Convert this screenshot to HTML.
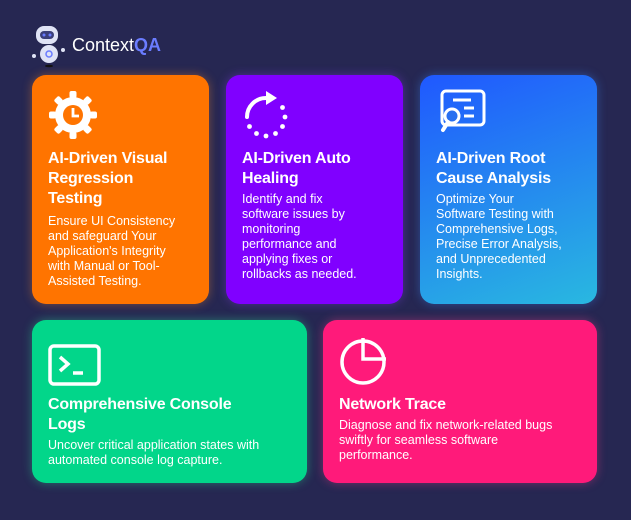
<!DOCTYPE html>
<html><head><meta charset="utf-8"><style>
*{margin:0;padding:0;box-sizing:border-box}
body{width:631px;height:520px;background:#262752;font-family:"Liberation Sans",sans-serif;position:relative;overflow:hidden;color:#fff}
.c{position:absolute;border-radius:14px;padding:0 16px}
.t{position:absolute;left:16px;font-weight:bold;font-size:16px;line-height:20px;letter-spacing:-0.2px;white-space:nowrap}
.b{position:absolute;left:16px;font-size:12.5px;line-height:15px;white-space:nowrap}
svg{position:absolute}
</style></head><body>
<svg style="left:30px;top:24px" width="40" height="44" viewBox="0 0 40 44">
<rect x="6" y="2" width="22" height="18" rx="8" fill="#dfe3f5"/>
<rect x="10" y="7" width="14" height="8" rx="4" fill="#3b3f7a"/>
<circle cx="14" cy="11" r="1.5" fill="#6a7cff"/><circle cx="20" cy="11" r="1.5" fill="#6a7cff"/>
<ellipse cx="19" cy="30" rx="9" ry="9" fill="#dfe3f5"/>
<circle cx="19" cy="30" r="3" fill="none" stroke="#6a7cff" stroke-width="1.5"/>
<circle cx="4" cy="32" r="2" fill="#dfe3f5"/><circle cx="33" cy="26" r="2" fill="#dfe3f5"/>
<ellipse cx="19" cy="42" rx="4" ry="1.2" fill="#111"/>
</svg>
<div style="position:absolute;left:72px;top:35px;font-size:18px;color:#fff">Context<b style="color:#6a7cff">QA</b></div>

<div class="c" style="left:32px;top:75px;width:177px;height:229px;background:#ff7400;box-shadow:0 0 10px rgba(255,140,40,.4)">
<svg style="left:16px;top:15px" width="50" height="50" viewBox="0 0 50 50"><g fill="#fff"><circle cx="25" cy="25" r="18"/><g id="t"><rect x="21.5" y="1" width="7" height="7" rx="2"/></g>
<use href="#t" transform="rotate(45 25 25)"/><use href="#t" transform="rotate(90 25 25)"/><use href="#t" transform="rotate(135 25 25)"/><use href="#t" transform="rotate(180 25 25)"/><use href="#t" transform="rotate(225 25 25)"/><use href="#t" transform="rotate(270 25 25)"/><use href="#t" transform="rotate(315 25 25)"/></g>
<circle cx="25" cy="25" r="13" fill="#fff"/><circle cx="25" cy="25" r="10" fill="#ff7400"/><path d="M25 18v8h6" stroke="#fff" stroke-width="2.8" fill="none"/></svg>
<div class="t" style="top:74px">AI-Driven Visual<br>Regression<br>Testing</div>
<div class="b" style="top:139px">Ensure UI Consistency<br>and safeguard Your<br>Application's Integrity<br>with Manual or Tool-<br>Assisted Testing.</div></div>

<div class="c" style="left:226px;top:75px;width:177px;height:229px;background:#8000ff;box-shadow:0 0 10px rgba(140,60,255,.4)">
<svg style="left:14px;top:15px" width="52" height="52" viewBox="0 0 52 52"><path d="M7 27A19 19 0 0 1 26 8" stroke="#fff" stroke-width="4" fill="none" stroke-linecap="round"/><path d="M26 1l11 7-11 7z" fill="#fff"/>
<g fill="#fff"><circle cx="42.5" cy="17.5" r="2.4"/><circle cx="45" cy="27" r="2.4"/><circle cx="42.5" cy="36.5" r="2.4"/><circle cx="35.5" cy="43.5" r="2.4"/><circle cx="26" cy="46" r="2.4"/><circle cx="16.5" cy="43.5" r="2.4"/><circle cx="9.5" cy="36.5" r="2.4"/></g></svg>
<div class="t" style="top:74px">AI-Driven Auto<br>Healing</div>
<div class="b" style="top:117px">Identify and fix<br>software issues by<br>monitoring<br>performance and<br>applying fixes or<br>rollbacks as needed.</div></div>

<div class="c" style="left:420px;top:75px;width:177px;height:229px;background:linear-gradient(160deg,#2058ff,#29b8e0);box-shadow:0 0 10px rgba(60,140,255,.4)">
<svg style="left:18px;top:13px" width="50" height="52" viewBox="0 0 50 52"><rect x="4" y="3" width="42" height="34" rx="4" fill="none" stroke="#fff" stroke-width="3"/>
<path d="M15 12h18M26 20h10M26 28h10" stroke="#fff" stroke-width="3"/><circle cx="14" cy="28" r="7" fill="#2a70f0" stroke="#fff" stroke-width="3"/><path d="M10 34l-5 8" stroke="#fff" stroke-width="4" stroke-linecap="round"/></svg>
<div class="t" style="top:74px">AI-Driven Root<br>Cause Analysis</div>
<div class="b" style="top:117px">Optimize Your<br>Software Testing with<br>Comprehensive Logs,<br>Precise Error Analysis,<br>and Unprecedented<br>Insights.</div></div>

<div class="c" style="left:32px;top:320px;width:275px;height:163px;background:#02d68a;box-shadow:0 0 10px rgba(40,230,150,.4)">
<svg style="left:16px;top:24px" width="54" height="44" viewBox="0 0 54 44"><rect x="2" y="2" width="49" height="38" rx="4" fill="none" stroke="#fff" stroke-width="3.5"/><path d="M12 13l8 7-8 7" stroke="#fff" stroke-width="3.5" fill="none"/><path d="M25 29h10" stroke="#fff" stroke-width="3.5"/></svg>
<div class="t" style="top:75px">Comprehensive Console<br>Logs</div>
<div class="b" style="top:118px">Uncover critical application states with<br>automated console log capture.</div></div>

<div class="c" style="left:323px;top:320px;width:274px;height:163px;background:#ff1a7a;box-shadow:0 0 10px rgba(255,60,140,.4)">
<svg style="left:16px;top:14px" width="52" height="52" viewBox="0 0 52 52"><circle cx="24" cy="28" r="21" fill="none" stroke="#fff" stroke-width="3.5"/><path d="M24 4v21h23" fill="none" stroke="#fff" stroke-width="3.5"/></svg>
<div class="t" style="top:75px">Network Trace</div>
<div class="b" style="top:98px">Diagnose and fix network-related bugs<br>swiftly for seamless software<br>performance.</div></div>
</body></html>
